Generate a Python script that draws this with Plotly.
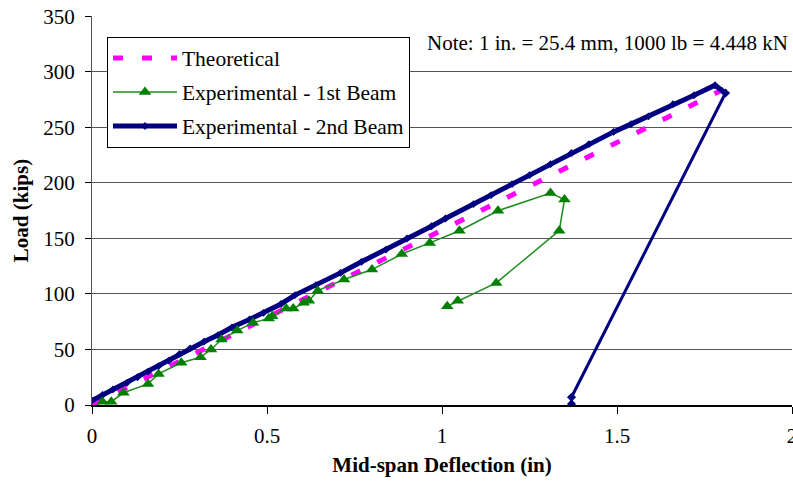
import plotly.graph_objects as go

# Theoretical line
theo_x = [0.0, 1.846]
theo_y = [0.0, 291.0]

# Experimental - 1st Beam
beam1_x = [0.03, 0.055, 0.09, 0.16, 0.19, 0.255, 0.31, 0.34, 0.37, 0.415, 0.46, 0.505, 0.515,
           0.555, 0.575, 0.605, 0.62, 0.645, 0.72, 0.80, 0.885, 0.965, 1.05, 1.16, 1.31,
           1.35, 1.335, 1.155, 1.045, 1.015]
beam1_y = [3, 3, 11, 19, 28, 38, 43, 50, 59, 67, 74, 78, 80, 87, 87, 92, 94, 103, 113, 122,
           136, 146, 157, 175, 191, 185, 157, 110, 94, 89]

# Experimental - 2nd Beam (loading branch)
beam2_x = [0.0, 0.03, 0.06, 0.10, 0.13, 0.16, 0.19, 0.22, 0.25, 0.28, 0.32, 0.36, 0.40, 0.45,
           0.49, 0.54, 0.58, 0.64, 0.71, 0.77, 0.84, 0.90, 0.97, 1.01, 1.09, 1.14, 1.20, 1.25,
           1.31, 1.37, 1.42, 1.49, 1.54, 1.59, 1.66, 1.72, 1.78, 1.81]
beam2_y = [4, 9, 14, 20, 25, 30, 35, 40, 46, 51, 57, 63, 70, 77, 83, 91, 99, 108, 119, 129,
           140, 150, 161, 168, 181, 189, 199, 207, 217, 227, 235, 246, 253, 260, 271, 279,
           288, 281]
# Experimental - 2nd Beam (unloading branch)
beam2_unload_x = [1.81, 1.37, 1.37]
beam2_unload_y = [281, 7, 1]

x_ticks = [0, 0.5, 1, 1.5, 2]
x_tick_text = ["0", "0.5", "1", "1.5", "2"]
y_ticks = [0, 50, 100, 150, 200, 250, 300, 350]

FONT = "Liberation Serif, Times New Roman, serif"
NAVY = "#000080"

fig = go.Figure()
fig.add_trace(go.Scatter(
    x=theo_x, y=theo_y, mode="lines", name="Theoretical",
    line=dict(color="#FF00FF", width=5, dash="10px,19px"),
    legendgroup="a", legendrank=1))
fig.add_trace(go.Scatter(
    x=beam2_unload_x, y=beam2_unload_y, mode="lines+markers", name="Experimental - 2nd Beam",
    line=dict(color=NAVY, width=3),
    marker=dict(symbol="diamond", size=7, color=NAVY),
    legendgroup="c", showlegend=False))
fig.add_trace(go.Scatter(
    x=beam2_x, y=beam2_y, mode="lines+markers", name="Experimental - 2nd Beam",
    line=dict(color=NAVY, width=5),
    marker=dict(symbol="diamond", size=6, color=NAVY),
    legendgroup="c", legendrank=3))
fig.add_trace(go.Scatter(
    x=beam1_x, y=beam1_y, mode="lines+markers", name="Experimental - 1st Beam",
    line=dict(color="#1E8C1E", width=1.5),
    marker=dict(symbol="triangle-up", size=11, color="#008000"),
    legendgroup="b", legendrank=2))

fig.add_annotation(
    text="Note: 1 in. = 25.4 mm, 1000 lb = 4.448 kN",
    xref="paper", yref="paper", x=0.997, y=0.93, xanchor="right", yanchor="middle",
    showarrow=False, font=dict(family=FONT, size=21, color="#000"))

fig.update_layout(
    width=793, height=481,
    margin=dict(l=92, r=1, t=16, b=76),
    paper_bgcolor="white", plot_bgcolor="white",
    font=dict(family=FONT, size=21, color="#000"),
    showlegend=True,
    legend=dict(
        x=0.0214, y=0.947, xanchor="left", yanchor="top",
        bgcolor="white", bordercolor="#000", borderwidth=1,
        font=dict(family=FONT, size=21.5, color="#000"),
        itemwidth=64, tracegroupgap=3, traceorder="grouped",
    ),
    xaxis=dict(
        range=[0, 2], tickvals=x_ticks, ticktext=x_tick_text,
        showgrid=False, zeroline=False, automargin=False,
        showline=True, linecolor="#000", linewidth=1.5,
        ticks="outside", ticklen=7, tickcolor="#000", tickwidth=1,
        ticklabelstandoff=4, ticklabeloverflow="allow",
        tickfont=dict(family=FONT, size=21),
        title=dict(text="<b>Mid-span Deflection (in)</b>", font=dict(family=FONT, size=21),
                   standoff=10),
    ),
    yaxis=dict(
        range=[0, 350.4], tickvals=y_ticks,
        showgrid=True, gridcolor="#555", gridwidth=1,
        zeroline=False, automargin=False,
        showline=True, linecolor="#555", linewidth=1,
        ticks="outside", ticklen=6, tickcolor="#000", tickwidth=1,
        ticklabelstandoff=6, ticklabeloverflow="allow",
        tickfont=dict(family=FONT, size=21),
        title=dict(text="<b>Load (kips)</b>", font=dict(family=FONT, size=21),
                   standoff=8),
    ),
)

fig.write_html("out.html", config={"displayModeBar": False},
               post_script="document.body.style.margin='0';")
